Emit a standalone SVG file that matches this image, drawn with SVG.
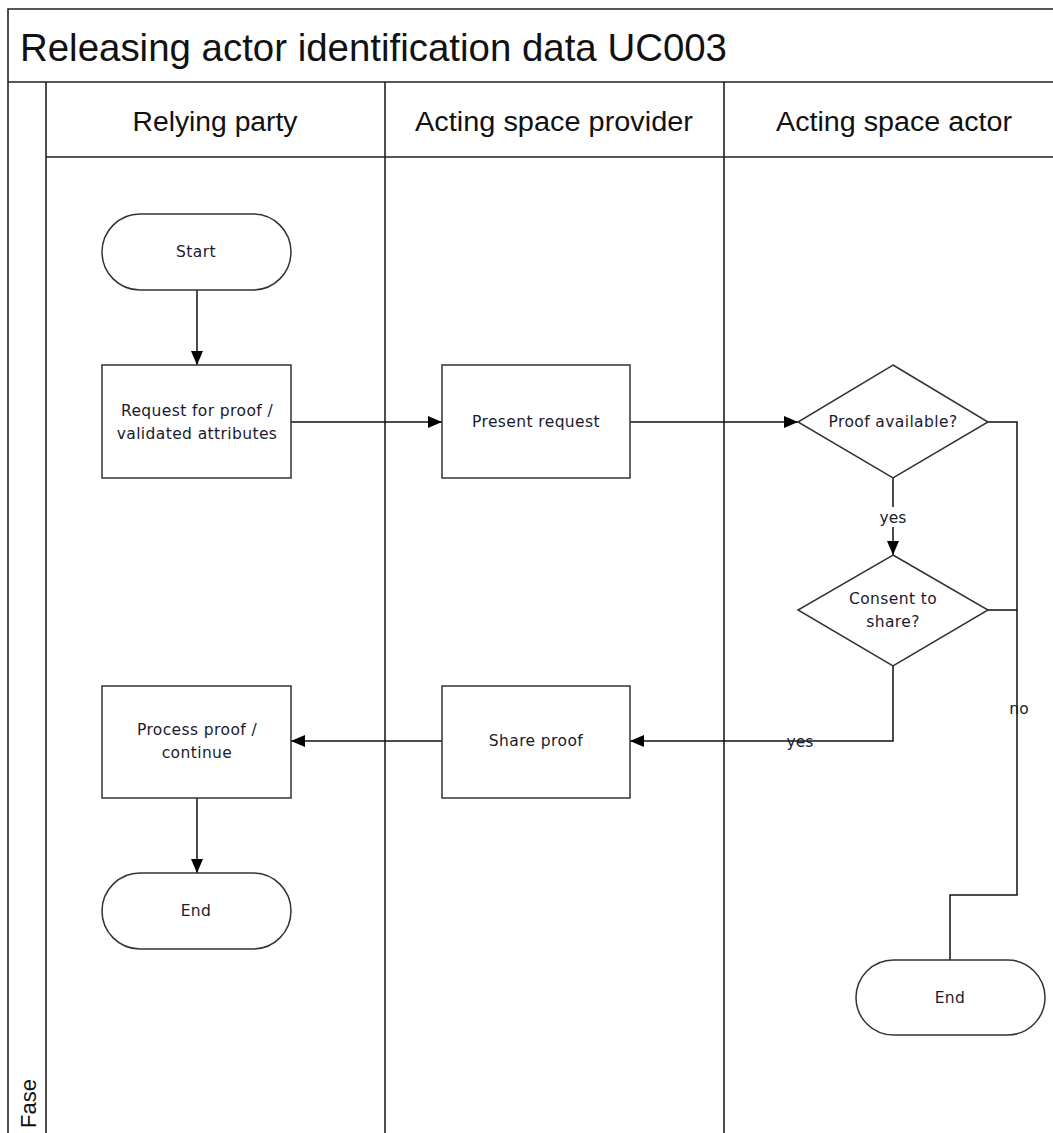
<svg xmlns="http://www.w3.org/2000/svg" width="1053" height="1133" viewBox="0 0 1053 1133">
<style>
.lane{fill:none;stroke:#222;stroke-width:1.6}
.shape{fill:#fff;stroke:#333;stroke-width:1.5}
.conn{fill:none;stroke:#111;stroke-width:1.5}
.t{font-family:"DejaVu Sans",sans-serif;font-size:15.5px;fill:#1a1a2e;text-anchor:middle;letter-spacing:0.4px}
.hdr{font-family:"Liberation Sans",sans-serif;font-size:27px;fill:#111;text-anchor:middle}
.title{font-family:"Liberation Sans",sans-serif;font-size:39px;fill:#111}
.lbl{font-family:"DejaVu Sans",sans-serif;font-size:15.5px;fill:#1a1a2e;text-anchor:middle}
</style>
<defs>
<marker id="arr" viewBox="0 0 14 12" refX="14" refY="6" markerWidth="14" markerHeight="12" markerUnits="userSpaceOnUse" orient="auto">
<path d="M0,0 L14,6 L0,12 Z" fill="#000"/>
</marker>
</defs>
<rect width="1053" height="1133" fill="#fff"/>
<g id="pool">
<path class="lane" d="M8,1140 V9 H1060 M8,82 H1060 M46,82 V1140 M46,157 H1060 M385,82 V1140 M724,82 V1140"/>
<text class="title" x="20" y="61" textLength="707" lengthAdjust="spacingAndGlyphs">Releasing actor identification data UC003</text>
<text class="hdr" x="215" y="131" textLength="165" lengthAdjust="spacingAndGlyphs">Relying party</text>
<text class="hdr" x="554" y="131" textLength="278" lengthAdjust="spacingAndGlyphs">Acting space provider</text>
<text class="hdr" x="894" y="131" textLength="236" lengthAdjust="spacingAndGlyphs">Acting space actor</text>
<text class="hdr" x="0" y="0" transform="translate(36,1128) rotate(-90)" style="text-anchor:start;font-size:22px">Fase</text>
</g>
<g id="connectors">
<path class="conn" d="M197,290 V365" marker-end="url(#arr)"/>
<path class="conn" d="M291,422 H442" marker-end="url(#arr)"/>
<path class="conn" d="M630,422 H798" marker-end="url(#arr)"/>
<path class="conn" d="M893,478 V555" marker-end="url(#arr)"/>
<path class="conn" d="M893,666 V741 H630" marker-end="url(#arr)"/>
<path class="conn" d="M442,741 H291" marker-end="url(#arr)"/>
<path class="conn" d="M197,798 V873" marker-end="url(#arr)"/>
<path class="conn" d="M988,422 H1017 V895 H950 V960"/>
<path class="conn" d="M988,610 H1017"/>
<rect x="876" y="507" width="34" height="20" fill="#fff"/>
<text class="lbl" x="893" y="523">yes</text>
<text class="lbl" x="800" y="747">yes</text>
<text class="lbl" x="1019" y="714">no</text>
</g>
<g id="start">
<rect class="shape" x="102" y="214" width="189" height="76" rx="38"/>
<text class="t" x="196" y="257">Start</text>
</g>
<g id="request">
<rect class="shape" x="102" y="365" width="189" height="113"/>
<text class="t" x="197" y="416">Request for proof /</text>
<text class="t" x="197" y="439">validated attributes</text>
</g>
<g id="present">
<rect class="shape" x="442" y="365" width="188" height="113"/>
<text class="t" x="536" y="427">Present request</text>
</g>
<g id="proof-available">
<polygon class="shape" points="893,365 988,422 893,478 798,422"/>
<text class="t" x="893" y="427">Proof available?</text>
</g>
<g id="consent">
<polygon class="shape" points="893,555 988,610 893,666 798,610"/>
<text class="t" x="893" y="604">Consent to</text>
<text class="t" x="893" y="627">share?</text>
</g>
<g id="share">
<rect class="shape" x="442" y="686" width="188" height="112"/>
<text class="t" x="536" y="746">Share proof</text>
</g>
<g id="process">
<rect class="shape" x="102" y="686" width="189" height="112"/>
<text class="t" x="197" y="735">Process proof /</text>
<text class="t" x="197" y="758">continue</text>
</g>
<g id="end-left">
<rect class="shape" x="102" y="873" width="189" height="76" rx="38"/>
<text class="t" x="196" y="916">End</text>
</g>
<g id="end-right">
<rect class="shape" x="856" y="960" width="189" height="75" rx="37.5"/>
<text class="t" x="950" y="1003">End</text>
</g>
</svg>
